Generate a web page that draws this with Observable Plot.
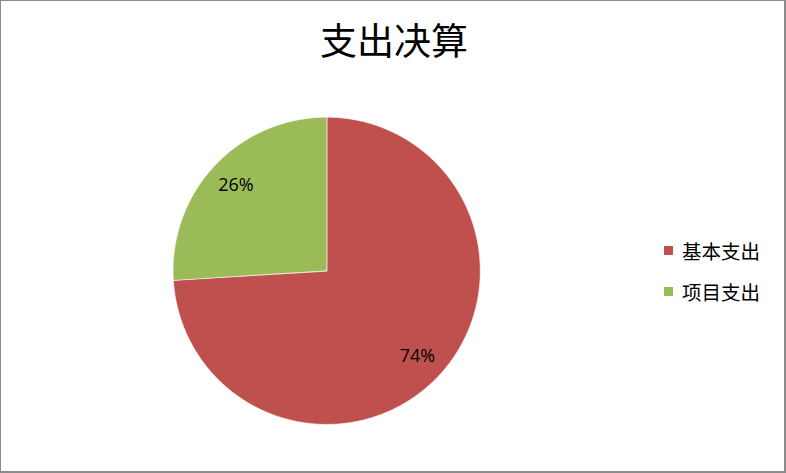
<!DOCTYPE html>
<html>
<head>
<meta charset="utf-8">
<script src="https://cdn.jsdelivr.net/npm/d3@7"></script>
<script src="https://cdn.jsdelivr.net/npm/@observablehq/plot@0.6"></script>
<style>
  html, body { margin: 0; padding: 0; background: #fff; }
  #wrap { position: relative; width: 786px; height: 473px; box-sizing: border-box;
          border-left: 1px solid #8a8a8a; border-top: 1px solid #8a8a8a;
          border-right: 2px solid #8a8a8a; border-bottom: 2px solid #8a8a8a; overflow: hidden; }
  #chart { position: absolute; left: -1px; top: -1px; }
  #title { position: absolute; left: 0; width: 786px; top: 15px; text-align: center;
           font-family: "Noto Sans CJK SC", sans-serif; font-size: 37px; color: #000; line-height: 46px; }
  #legend { position: absolute; left: 663px; top: 237px; font-family: "Noto Sans CJK SC", sans-serif;
            font-size: 19.5px; color: #000; }
  .item { display: flex; align-items: center; height: 24px; margin-bottom: 17px; }
  .sw { width: 9px; height: 9px; margin-right: 9px; }
</style>
</head>
<body>
<div id="wrap">
  <div id="chart"></div>
  <div id="title">支出决算</div>
  <div id="legend"></div>
</div>
<script>
const categories = ["基本支出", "项目支出"];
const values = [74, 26];
const colors = ["#C0504D", "#9BBB59"];
const title = "支出决算";

const total = d3.sum(values);
// clockwise from 12 o'clock
const pie = d3.pie().sort(null).value(d => d.value)(categories.map((name, i) => ({name, value: values[i]})));

const slicePts = [];
for (const s of pie) {
  const n = Math.max(2, Math.ceil((s.endAngle - s.startAngle) / 0.01));
  slicePts.push({name: s.data.name, x: 0, y: 0});
  for (let k = 0; k <= n; k++) {
    const a = s.startAngle + (s.endAngle - s.startAngle) * k / n;
    slicePts.push({name: s.data.name, x: Math.sin(a), y: Math.cos(a)});
  }
}
const labels = pie.map(s => {
  const a = (s.startAngle + s.endAngle) / 2;
  return {name: s.data.name, x: 0.81 * Math.sin(a), y: 0.81 * Math.cos(a),
          text: Math.round(s.data.value / total * 100) + "%"};
});

const plot = Plot.plot({
  width: 786,
  height: 473,
  margin: 0,
  x: {domain: [-1, 1], range: [173, 481], axis: null},
  y: {domain: [-1, 1], range: [425, 117], axis: null},
  color: {domain: categories, range: colors},
  style: {background: "transparent"},
  marks: [
    Plot.line(slicePts, {x: "x", y: "y", z: "name", fill: "name", stroke: "white", strokeWidth: 0.6, curve: "linear-closed"}),
    Plot.text(labels, {x: "x", y: "y", text: "text", fill: "#000", fontSize: 18,
                       fontFamily: "'Open Sans', 'Liberation Sans', sans-serif"})
  ]
});
document.getElementById("chart").appendChild(plot);

const legend = d3.select("#legend");
categories.forEach((c, i) => {
  const it = legend.append("div").attr("class", "item");
  it.append("div").attr("class", "sw").style("background", colors[i]);
  it.append("span").text(c);
});
</script>
</body>
</html>
